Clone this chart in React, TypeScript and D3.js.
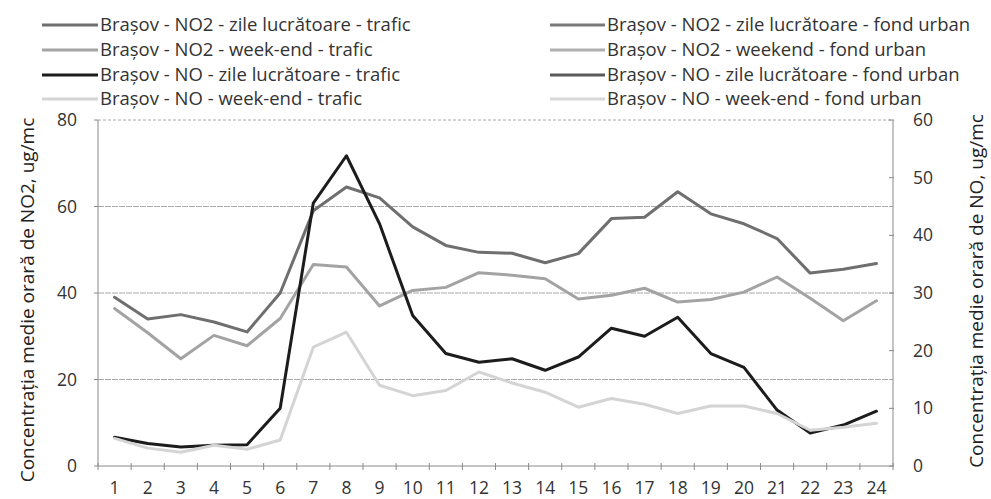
import React from "react";
import * as d3 from "d3";

const hours = d3.range(1, 25).map(String);
const no2WorkTraffic = [39, 34, 35, 33.3, 31, 40, 59, 64.5, 62, 55.3, 51, 49.4, 49.2, 47, 49.1, 57.2, 57.5, 63.4, 58.3, 56, 52.6, 44.6, 45.5, 46.8];
const no2WeekendTraffic = [36.4, 30.8, 24.8, 30.2, 27.8, 34.1, 46.6, 46, 37, 40.6, 41.3, 44.7, 44.1, 43.3, 38.6, 39.5, 41.1, 37.9, 38.5, 40.2, 43.7, 38.8, 33.6, 38.2];
const noWorkTraffic = [5.0, 3.9, 3.3, 3.6, 3.7, 10, 45.6, 53.8, 42, 26.1, 19.5, 18, 18.6, 16.6, 18.9, 23.9, 22.5, 25.8, 19.5, 17.1, 9.7, 5.7, 7.1, 9.5];
const noWeekendTraffic = [4.8, 3.1, 2.4, 3.6, 2.9, 4.5, 20.6, 23.2, 14, 12.2, 13.1, 16.3, 14.4, 12.8, 10.2, 11.7, 10.7, 9.1, 10.4, 10.4, 9.1, 6.2, 6.7, 7.4];

const legendLeft = [
  "Brașov - NO2 - zile lucrătoare - trafic",
  "Brașov - NO2 - week-end - trafic",
  "Brașov - NO - zile lucrătoare - trafic",
  "Brașov - NO - week-end - trafic",
];
const legendRight = [
  "Brașov - NO2 - zile lucrătoare - fond urban",
  "Brașov - NO2 - weekend - fond urban",
  "Brașov - NO - zile lucrătoare - fond urban",
  "Brașov - NO - week-end - fond urban",
];
const leftTicks = [0, 20, 40, 60, 80];
const rightTicks = [0, 10, 20, 30, 40, 50, 60];
const leftTitle = "Concentrația medie orară de NO2, ug/mc";
const rightTitle = "Concentrația medie orară de NO, ug/mc";

const W = 991, H = 499;
const M = { left: 98, right: 893, top: 120, bottom: 466 };
const FONT = "'Open Sans', sans-serif";

export default function App() {
  const x = d3.scaleBand().domain(hours).range([M.left, M.right]);
  const yL = d3.scaleLinear().domain([0, 80]).range([M.bottom, M.top]);
  const yR = d3.scaleLinear().domain([0, 60]).range([M.bottom, M.top]);
  const cx = (h: string) => (x(h) as number) + x.bandwidth() / 2;

  const series = [
    { values: no2WorkTraffic, y: yL, color: "#6f6f6f" },
    { values: no2WeekendTraffic, y: yL, color: "#a3a3a3" },
    { values: noWorkTraffic, y: yR, color: "#1c1c1c" },
    { values: noWeekendTraffic, y: yR, color: "#d4d4d4" },
  ];
  const legendColors = ["#6f6f6f", "#a3a3a3", "#1c1c1c", "#d4d4d4"];
  const legendColorsR = ["#7a7a7a", "#b0b0b0", "#5a5a5a", "#d8d8d8"];
  const rowsY = [25, 50, 75, 99];

  return (
    <svg width={W} height={H} style={{ position: "absolute", left: 0, top: 0, background: "#fff" }} fontFamily={FONT}>
      <rect width={W} height={H} fill="#fff" />
      {leftTicks.filter(t => t > 0).map(t => (
        <line key={t} x1={M.left} x2={M.right} y1={yL(t)} y2={yL(t)} stroke="#a8a8a8" strokeWidth={1} strokeDasharray={t === 80 ? "3 2" : "6 1"} />
      ))}
      <line x1={M.left} x2={M.left} y1={M.top} y2={M.bottom} stroke="#8a8a8a" strokeWidth={1} />
      <line x1={M.right} x2={M.right} y1={M.top} y2={M.bottom} stroke="#8a8a8a" strokeWidth={1} />
      <line x1={M.left} x2={M.right} y1={M.bottom} y2={M.bottom} stroke="#8a8a8a" strokeWidth={1} />
      {hours.map(h => (
        <line key={"t" + h} x1={x(h) as number} x2={x(h) as number} y1={M.bottom - 3} y2={M.bottom + 4} stroke="#8a8a8a" />
      ))}
      <line x1={M.right} x2={M.right} y1={M.bottom - 3} y2={M.bottom + 4} stroke="#8a8a8a" />
      {leftTicks.map(t => (
        <g key={"l" + t}>
          <line x1={M.left - 4} x2={M.left} y1={yL(t)} y2={yL(t)} stroke="#8a8a8a" />
          <text x={77} y={yL(t)} dy="0.35em" textAnchor="end" fontSize={17.5} fill="#333">{t}</text>
        </g>
      ))}
      {rightTicks.map(t => (
        <g key={"r" + t}>
          <line x1={M.right - 4} x2={M.right + 1} y1={yR(t)} y2={yR(t)} stroke="#8a8a8a" />
          <text x={913} y={yR(t)} dy="0.35em" textAnchor="start" fontSize={17.5} fill="#333">{t}</text>
        </g>
      ))}
      {hours.map(h => (
        <text key={"x" + h} x={cx(h)} y={488} dy="0.35em" textAnchor="middle" fontSize={17.5} fill="#333">{h}</text>
      ))}
      <text transform={`translate(27,300) rotate(-90)`} textAnchor="middle" dy="0.35em" fontSize={19} fill="#222">{leftTitle}</text>
      <text transform={`translate(976,291) rotate(-90)`} textAnchor="middle" dy="0.35em" fontSize={19} fill="#222">{rightTitle}</text>
      {series.map((s, i) => {
        const gen = d3.line<number>().x((_, j) => cx(hours[j])).y(v => s.y(v));
        return <path key={i} d={gen(s.values) as string} fill="none" stroke={s.color} strokeWidth={3} strokeLinejoin="round" strokeLinecap="round" />;
      })}
      {legendLeft.map((t, i) => (
        <g key={"lg" + i}>
          <line x1={42} x2={98} y1={rowsY[i]} y2={rowsY[i]} stroke={legendColors[i]} strokeWidth={3} />
          <text x={100} y={rowsY[i]} dy="0.35em" fontSize={18.5} fill="#333">{t}</text>
        </g>
      ))}
      {legendRight.map((t, i) => (
        <g key={"lr" + i}>
          <line x1={550} x2={605} y1={rowsY[i]} y2={rowsY[i]} stroke={legendColorsR[i]} strokeWidth={3} />
          <text x={607} y={rowsY[i]} dy="0.35em" fontSize={18.5} fill="#333">{t}</text>
        </g>
      ))}
    </svg>
  );
}
